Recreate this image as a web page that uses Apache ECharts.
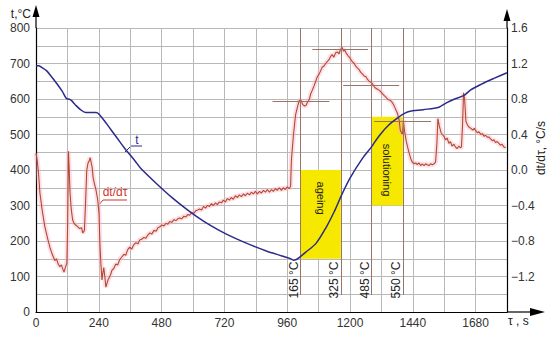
<!DOCTYPE html>
<html><head><meta charset="utf-8">
<script src="https://cdn.jsdelivr.net/npm/echarts@6/dist/echarts.min.js"></script>
<style>html,body{margin:0;padding:0;background:#fff}#c{width:550px;height:337px}</style>
</head><body><div id="c"></div>
<script>
// ---- data ----
// temperature curve t (°C) vs time (s)
const tTime = [0,10,20,40,60,80,100,117,125,135,150,170,190,210,230,240,260,280,300,320,340,360,380,400,460,520,580,640,700,760,820,880,940,970,984,995,1007,1030,1071,1110,1140,1167,1200,1247,1283,1311,1350,1388,1410,1426,1480,1540,1570,1600,1636,1660,1700,1750,1800];
const tTemp = [694,694,690,680,662,643,622,601,600,596,584,570,562,562,562,558,540,520,500,480,460,442,424,405,362,322,287,256,230,208,189,172,158,151,146,148,154,168,194,240,283,328,377,432,466,496,528,550,560,565,570,577,590,600,610,625,641,658,674];
// cooling/heating rate dt/dτ (°C/s) vs time (s)
const rTime = [0,5,10,15,25,34,45,53,62,72,78,85,91,97,103,107,112,118,121,124,127,130,135,140,145,152,160,167,174,179,185,189,194,199,203,207,211,215,218,223,229,236,241,244,248,252,256,259,263,267,271,275,280,285,290,297,305,312,320,328,336,343,350,358,366,374,382,390,396,404,412,420,428,435,443,451,459,466,473,481,489,497,504,511,519,527,535,542,549,557,565,573,580,587,595,603,610,618,625,633,640,648,655,663,670,678,686,693,701,709,716,724,731,739,746,754,762,770,777,785,793,800,808,816,823,831,838,846,854,861,869,877,884,892,900,907,915,922,930,938,945,953,960,968,973,976,984,992,1000,1006,1012,1019,1026,1032,1037,1045,1050,1056,1063,1069,1075,1082,1088,1094,1100,1107,1113,1119,1126,1132,1138,1145,1151,1158,1164,1170,1175,1180,1185,1192,1198,1204,1209,1216,1222,1228,1235,1241,1248,1254,1261,1267,1273,1280,1286,1292,1299,1305,1311,1318,1324,1330,1337,1343,1349,1356,1362,1369,1375,1381,1388,1392,1398,1401,1404,1408,1414,1420,1426,1432,1438,1445,1451,1457,1463,1470,1476,1483,1489,1495,1502,1508,1515,1521,1527,1532,1536,1541,1548,1553,1559,1565,1571,1578,1584,1590,1597,1603,1609,1616,1622,1626,1630,1634,1638,1643,1650,1656,1662,1669,1675,1681,1687,1693,1700,1706,1712,1718,1725,1731,1737,1744,1750,1756,1762,1769,1775,1781,1788,1795];
const rRate = [0.19,0.10,-0.05,-0.26,-0.48,-0.64,-0.78,-0.87,-0.95,-1.02,-1.00,-1.06,-1.09,-1.07,-1.12,-1.15,-1.10,-1.05,-0.60,0.21,0.00,-0.26,-0.45,-0.56,-0.60,-0.62,-0.64,-0.66,-0.65,-0.71,-0.68,-0.40,0.00,0.08,0.10,0.14,0.08,0.02,-0.08,-0.15,-0.22,-0.34,-0.50,-0.82,-1.05,-1.24,-1.15,-1.10,-1.20,-1.32,-1.28,-1.24,-1.21,-1.18,-1.13,-1.11,-1.06,-1.07,-1.01,-0.98,-0.95,-0.96,-0.90,-0.87,-0.89,-0.84,-0.82,-0.83,-0.79,-0.78,-0.76,-0.77,-0.73,-0.71,-0.72,-0.68,-0.69,-0.65,-0.64,-0.62,-0.63,-0.60,-0.61,-0.58,-0.59,-0.56,-0.57,-0.55,-0.54,-0.55,-0.52,-0.53,-0.50,-0.51,-0.48,-0.49,-0.46,-0.45,-0.44,-0.45,-0.41,-0.43,-0.40,-0.41,-0.38,-0.40,-0.37,-0.39,-0.36,-0.37,-0.34,-0.36,-0.32,-0.34,-0.31,-0.33,-0.29,-0.31,-0.28,-0.30,-0.27,-0.29,-0.26,-0.28,-0.25,-0.27,-0.24,-0.27,-0.24,-0.26,-0.23,-0.25,-0.22,-0.25,-0.22,-0.24,-0.21,-0.23,-0.20,-0.23,-0.20,-0.22,-0.19,-0.21,-0.18,0.11,0.40,0.62,0.72,0.78,0.79,0.74,0.72,0.73,0.76,0.80,0.86,0.90,0.95,1.00,1.05,1.08,1.12,1.16,1.17,1.20,1.22,1.24,1.28,1.30,1.27,1.32,1.33,1.31,1.36,1.38,1.34,1.35,1.32,1.29,1.27,1.24,1.22,1.20,1.17,1.15,1.13,1.10,1.08,1.06,1.05,1.02,1.00,0.99,0.97,0.94,0.92,0.91,0.90,0.88,0.86,0.84,0.82,0.80,0.79,0.78,0.76,0.72,0.68,0.64,0.56,0.45,0.41,0.41,0.56,0.45,0.34,0.26,0.19,0.13,0.09,0.07,0.08,0.06,0.08,0.05,0.07,0.05,0.07,0.06,0.05,0.07,0.06,0.07,0.09,0.30,0.58,0.50,0.42,0.40,0.38,0.34,0.36,0.30,0.32,0.27,0.29,0.26,0.24,0.27,0.25,0.26,0.50,0.87,0.80,0.55,0.50,0.48,0.47,0.45,0.47,0.44,0.42,0.43,0.40,0.41,0.38,0.39,0.37,0.37,0.35,0.33,0.34,0.31,0.32,0.30,0.28,0.29,0.26,0.25];
// x ticks (s), left y ticks (°C), right y ticks (°C/s)
const xLabelTicks = [0,240,480,720,960,1200,1440,1680];
const yLeftLabelTicks = [0,100,200,300,400,500,600,700,800];
const yRightLabelTicks = [-1.2,-0.8,-0.4,0.0,0.4,0.8,1.2,1.6];
// marked temperatures: time (s) and label
const markTimes = [1010,1165,1283,1402];
const markLabels = ['165 °C','325 °C','485 °C','550 °C'];
// short horizontal reference lines: level (°C) and time span (s)
const hLevels = [594,741,639,538];
const hStart = [904,1056,1174,1292];
const hEnd = [1121,1269,1388,1510];
// treatment windows
const zoneNames = ['ageing','solutioning'];
const zoneT0 = [1010,1283];
const zoneT1 = [1165,1402];
const zoneLow = [150,300];
const zoneHigh = [400,550];
const zoneTextY = [321,400];
</script>
<script>
const FONT = '"Liberation Sans", Arial, sans-serif';
const chart = echarts.init(document.getElementById('c'), null, {renderer:'svg'});
const tData = tTime.map((x,i)=>[x,tTemp[i]]);
const rData = rTime.map((x,i)=>[x,rRate[i]]);
const brown = '#9a7466';
const near = (arr,v)=>arr.some(a=>Math.abs(a-v)<1e-6);

const vLines = markTimes.map(x=>[{coord:[x,800]},{coord:[x,48]}]);
const hLines = hLevels.map((y,i)=>[{coord:[hStart[i],y]},{coord:[hEnd[i],y]}]);
const tempLabels = markTimes.map((x,i)=>({coord:[x-25,90], value:markLabels[i]}));
const zoneAreas = zoneNames.map((n,i)=>[{xAxis:zoneT0[i], yAxis:zoneLow[i]},{xAxis:zoneT1[i], yAxis:zoneHigh[i]}]);
const zoneTexts = zoneNames.map((n,i)=>({coord:[(zoneT0[i]+zoneT1[i])/2, zoneTextY[i]], value:n}));

const option = {
  animation:false,
  textStyle:{fontFamily:FONT},
  grid:{left:36,right:43,top:28,bottom:25,containLabel:false},
  xAxis:{type:'value',min:0,max:1800,interval:120,
    axisLine:{lineStyle:{color:'#000',width:1.2}},
    axisTick:{show:false},
    axisLabel:{margin:5,color:'#333',fontSize:12,fontFamily:FONT,
      formatter:v=>near(xLabelTicks,v)?String(v):''},
    splitLine:{show:true,lineStyle:{color:'#b8b8b8',width:1}}},
  yAxis:[
    {type:'value',min:0,max:800,interval:50,
      axisLine:{show:true,lineStyle:{color:'#000',width:1.2}},
      axisTick:{show:false},
      axisLabel:{margin:6,color:'#333',fontSize:12,fontFamily:FONT,
        formatter:v=>near(yLeftLabelTicks,v)?String(v):''},
      splitLine:{show:true,lineStyle:{color:'#b8b8b8',width:1}}},
    {type:'value',min:-1.6,max:1.6,interval:0.4,position:'right',
      axisLine:{show:true,lineStyle:{color:'#000',width:1.2}},
      axisTick:{show:false},
      axisLabel:{margin:4,color:'#333',fontSize:12,fontFamily:FONT,
        formatter:v=>near(yRightLabelTicks,v)?(v<0?'\u2212':'')+Math.abs(v).toFixed(1):''},
      splitLine:{show:false}}
  ],
  series:[
    {type:'line',name:'zones',data:[],yAxisIndex:0,z:1,silent:true,
      markArea:{silent:true,itemStyle:{color:'#f7e800'},data:zoneAreas},
      markPoint:{silent:true,symbol:'circle',symbolSize:0,
        label:{show:true,position:'inside',rotate:-90,color:'#222',fontSize:11,fontFamily:FONT,formatter:p=>p.value},
        data:zoneTexts}},
    {type:'line',name:'marks',data:[],yAxisIndex:0,z:2,silent:true,
      markLine:{silent:true,symbol:'none',label:{show:false},
        lineStyle:{color:brown,width:1,type:'solid'},data:vLines.concat(hLines)},
      markPoint:{silent:true,symbol:'circle',symbolSize:0,
        label:{show:true,position:'inside',rotate:90,color:'#222',fontSize:12,fontFamily:FONT,formatter:p=>p.value},
        data:tempLabels}},
    {type:'line',name:'dt/dτ halo',data:rData,yAxisIndex:1,z:3,showSymbol:false,silent:true,
      lineStyle:{color:'#ffb0c4',width:5,opacity:0.4}},
    {type:'line',name:'dt/dτ',data:rData,yAxisIndex:1,z:4,showSymbol:false,
      lineStyle:{color:'#b04a2e',width:1.1}},
    {type:'line',name:'t',data:tData,yAxisIndex:0,z:5,showSymbol:false,smooth:0.3,
      lineStyle:{color:'#2b2b8c',width:1.5}}
  ],
  graphic:[
    // axis arrows
    {type:'line',shape:{x1:36,y1:28,x2:36,y2:14},style:{stroke:'#000',lineWidth:1.2}},
    {type:'polygon',shape:{points:[[36,5],[32.5,17],[39.5,17]]},style:{fill:'#000'}},
    {type:'line',shape:{x1:507,y1:28,x2:507,y2:18},style:{stroke:'#000',lineWidth:1.2}},
    {type:'polygon',shape:{points:[[507,9],[503.5,21],[510.5,21]]},style:{fill:'#000'}},
    {type:'line',shape:{x1:507,y1:312,x2:535,y2:312},style:{stroke:'#000',lineWidth:1.2}},
    {type:'polygon',shape:{points:[[545,312],[530,308],[530,316]]},style:{fill:'#000'}},
    // axis titles
    {type:'text',x:31,y:14,style:{text:'t,°C',font:'12px '+FONT,fill:'#222',align:'right',verticalAlign:'middle'}},
    {type:'text',x:508,y:321,style:{text:'τ , s',font:'12px '+FONT,fill:'#222',align:'left',verticalAlign:'middle'}},
    {type:'text',x:541,y:148,rotation:Math.PI/2,style:{text:'dt/dτ, °C/s',font:'12px '+FONT,fill:'#222',align:'center',verticalAlign:'middle'}},
    // series labels
    {type:'polyline',shape:{points:[[125,152],[131,146],[142,146]]},style:{stroke:'#2b2b8c',lineWidth:1,fill:null}},
    {type:'text',x:137,y:140,style:{text:'t',font:'12px '+FONT,fill:'#2b2b8c',align:'center',verticalAlign:'middle'}},
    {type:'polyline',shape:{points:[[98,206],[103,200],[127,200]]},style:{stroke:'#d0352b',lineWidth:1,fill:null}},
    {type:'text',x:115,y:192,style:{text:'dt/dτ',font:'12px '+FONT,fill:'#d0352b',align:'center',verticalAlign:'middle'}}
  ]
};
chart.setOption(option);
</script>
</body></html>
